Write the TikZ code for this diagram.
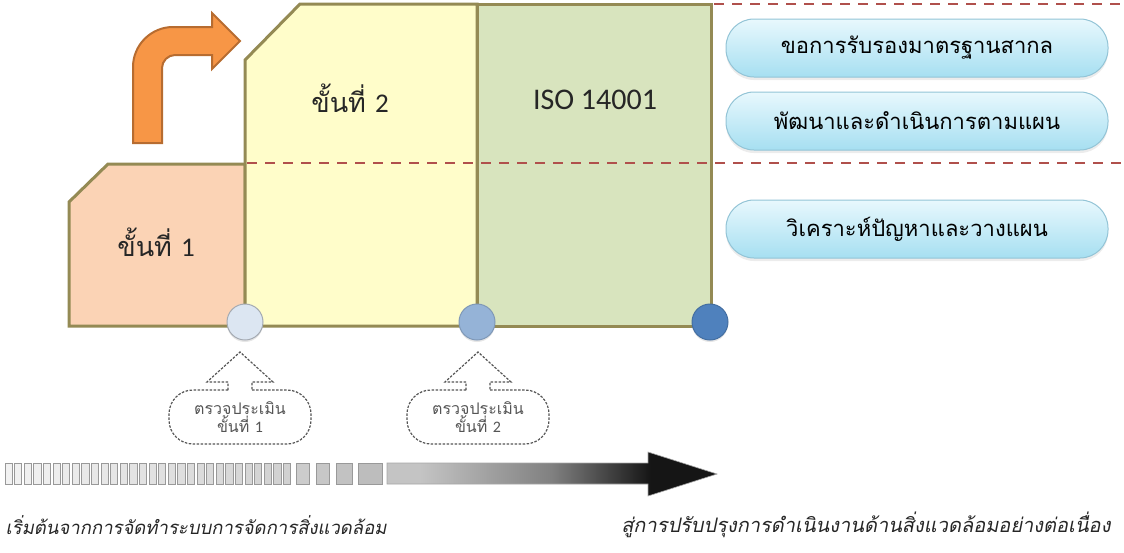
\documentclass[tikz,border=0pt]{standalone}
\usepackage{fontspec}
\setmainfont{Carlito}
\newfontfamily\thai[Script=Thai]{Loma}
\newfontfamily\thaiit[Script=Thai,FakeSlant=0.2]{Loma}
\usetikzlibrary{shadows}
\definecolor{olive}{HTML}{948A54}
\definecolor{peach}{HTML}{FBD3B5}
\definecolor{lyellow}{HTML}{FFFDCA}
\definecolor{lgreen}{HTML}{D8E4BE}
\definecolor{dred}{HTML}{B0504C}
\definecolor{orangef}{HTML}{F79646}
\definecolor{oranged}{HTML}{B76C30}
\definecolor{cA}{HTML}{DCE6F2}
\definecolor{cB}{HTML}{95B3D7}
\definecolor{cC}{HTML}{4F81BD}
\definecolor{pilltop}{HTML}{E8F8FD}
\definecolor{pillbot}{HTML}{A6DFF1}
\definecolor{pilldraw}{HTML}{93C4D6}
\definecolor{callgray}{HTML}{555555}
\definecolor{shA}{HTML}{C4C4C4}
\definecolor{shB}{HTML}{808080}
\definecolor{shC}{HTML}{151515}
\pgfdeclarehorizontalshading{barshade}{100bp}{color(0bp)=(shA); color(30bp)=(shA); color(50bp)=(shB); color(65bp)=(shC); color(100bp)=(shC)}
\tikzset{
  stagebox/.style={draw=olive, line width=3pt, line join=miter},
  divider/.style={draw=dred, line width=2pt, dash pattern=on 10pt off 8pt},
  dot/.style={circle, minimum size=36pt, inner sep=0pt, line width=1pt, drop shadow={opacity=0.2, shadow xshift=0pt, shadow yshift=-2pt}},
  pill/.style={draw=pilldraw, line width=1pt, rounded corners=28pt, top color=pilltop, bottom color=pillbot, minimum width=382pt, minimum height=58pt, inner sep=0pt, font=\thai\fontsize{22}{26}\selectfont, drop shadow={opacity=0.15, shadow xshift=0pt, shadow yshift=-3pt}},
  stagetext/.style={font=\thai\fontsize{27}{32}\selectfont, text=black!85},
  callout/.style={draw=callgray, line width=1.2pt, dash pattern=on 2.5pt off 1.5pt},
  calltext/.style={font=\thai\fontsize{16}{17}\selectfont, text=callgray, align=center},
  smallbar/.style={draw=gray!80, line width=1pt},
  bottomtext/.style={text=black!85}
}
\begin{document}
\begin{tikzpicture}[x=1pt,y=-1pt]
\useasboundingbox (0,0) rectangle (1124,552);
% stage boxes
\path[stagebox, fill=peach] (69,326) -- (69,202) -- (108,164) -- (245,164) -- (245,326) -- cycle;
\path[stagebox, fill=lyellow] (245,326) -- (245,60) -- (300,4) -- (477,4) -- (477,326) -- cycle;
\path[stagebox, fill=lgreen] (477,4) rectangle (711,326);
% dividers
\coordinate (d1a) at (714,4);
\coordinate (d1b) at (1124,4);
\coordinate (d2a) at (247,163);
\coordinate (d2b) at (1124,163);
\draw[divider] (d1a) -- (d1b);
\draw[divider] (d2a) -- (d2b);
% labels
\node[stagetext] (s1) at (156,242) {ขั้นที่ {\fontspec{Carlito}1}};
\node[stagetext] (s2) at (350,98) {ขั้นที่ {\fontspec{Carlito}2}};
\node[font=\fontsize{30}{34}\selectfont, text=black!85] (iso) at (595,100) {ISO 14001};
% orange arrow
\draw[fill=orangef, draw=oranged, line width=2pt, line join=miter]
  (133,143) -- (133,67) .. controls (133,45) and (151,27) .. (173,27) -- (212,27) -- (212,13)
  -- (240,41) -- (212,69) -- (212,55) -- (175,55) .. controls (168,55) and (162,61) .. (162,68) -- (162,143) -- cycle;
% dots
\node[dot, fill=cA, draw=cA!70!black!90] (c1) at (245,322) {};
\node[dot, fill=cB, draw=cB!85!black] (c2) at (477,322) {};
\node[dot, fill=cC, draw=cC!85!black] (c3) at (710,322) {};
% pills
\node[pill] (p1) at (917,48) {ขอการรับรองมาตรฐานสากล};
\node[pill] (p2) at (917,121) {พัฒนาและดำเนินการตามแผน};
\node[pill] (p3) at (917,229) {วิเคราะห์ปัญหาและวางแผน};
% callouts
\foreach \cx/\n/\lbl in {240/k1/1, 478/k2/2}{
  \draw[callout, line join=miter] (\cx-12,390) -- (\cx-12,382) -- (\cx-33,382) -- (\cx,352) -- (\cx+33,382) -- (\cx+12,382) -- (\cx+12,390);
  \draw[callout] (\cx-12,390) [rounded corners=24pt] -- (\cx-71,390) -- (\cx-71,444) -- (\cx+71,444) -- (\cx+71,390) [sharp corners] -- (\cx+12,390);
  \node[calltext] (\n) at (\cx,417) {ตรวจประเมิน\\ขั้นที่ {\fontspec{Carlito}\lbl}};
}
% small bars
\foreach \i in {0,...,29}{
  \pgfmathsetmacro{\xx}{5+9.6*\i}
  \pgfmathsetmacro{\sh}{5+0.45*\i}
  \path[smallbar, fill=black!\sh] (\xx,463) rectangle (\xx+7.2,484);
}
\path[smallbar, fill=black!20] (296,463) rectangle (309,484);
\path[smallbar, fill=black!22] (316,463) rectangle (329,484);
\path[smallbar, fill=black!24] (336,463) rectangle (352,484);
\path[smallbar, fill=black!26] (358,463) rectangle (382,484);
% gradient arrow
\shade[shading=barshade, draw=gray!70, line width=0.6pt]
  (387,463) -- (648,463) -- (648,452) -- (717,474) -- (648,496) -- (648,484) -- (387,484) -- cycle;
% bottom texts
\node[bottomtext, anchor=west, font=\thaiit\fontsize{18.5}{22}\selectfont] (b1) at (2,525) {เริ่มต้นจากการจัดทำระบบการจัดการสิ่งแวดล้อม};
\node[bottomtext, anchor=east, font=\thaiit\fontsize{20}{22}\selectfont] (b2) at (1114,525) {สู่การปรับปรุงการดำเนินงานด้านสิ่งแวดล้อมอย่างต่อเนื่อง};
\end{tikzpicture}
\end{document}
